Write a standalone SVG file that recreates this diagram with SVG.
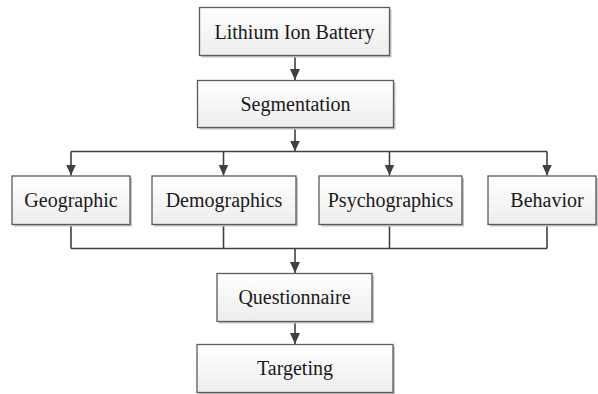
<svg xmlns="http://www.w3.org/2000/svg" width="598" height="394" viewBox="0 0 598 394">
  <defs>
    <linearGradient id="boxfill" x1="0" y1="0" x2="0" y2="1">
      <stop offset="0" stop-color="#ffffff"/>
      <stop offset="1" stop-color="#ededed"/>
    </linearGradient>
    <marker id="arrow" markerUnits="userSpaceOnUse" markerWidth="12" markerHeight="12" viewBox="0 0 12 12" refX="11" refY="6" orient="auto">
      <path d="M0,1 L11,6 L0,11 Z" fill="#404040"/>
    </marker>
  </defs>
  <style>
    .shadow { fill: #c4c4c4; }
    .box { fill: url(#boxfill); stroke: #5a5a5a; stroke-width: 1.3; }
    .label { font-family: "Liberation Serif", "Times New Roman", serif; font-size: 20px; fill: #1a1a1a; text-anchor: middle; }
    .conn { stroke: #404040; stroke-width: 1.6; fill: none; }
    .arr { marker-end: url(#arrow); }
  </style>
  <rect width="598" height="394" fill="#ffffff"/>

  <g id="connectors">
    <line class="conn arr" x1="295" y1="55.5" x2="295" y2="80"/>
    <line class="conn arr" x1="295" y1="127.5" x2="295" y2="151.5"/>
    <line class="conn" x1="71" y1="151.5" x2="547" y2="151.5"/>
    <line class="conn arr" x1="71" y1="151.5" x2="71" y2="175.5"/>
    <line class="conn arr" x1="223.5" y1="151.5" x2="223.5" y2="175.5"/>
    <line class="conn arr" x1="389.5" y1="151.5" x2="389.5" y2="175.5"/>
    <line class="conn arr" x1="547" y1="151.5" x2="547" y2="175.5"/>
    <line class="conn" x1="71" y1="224.5" x2="71" y2="248.5"/>
    <line class="conn" x1="223.5" y1="224.5" x2="223.5" y2="248.5"/>
    <line class="conn" x1="389.5" y1="224.5" x2="389.5" y2="248.5"/>
    <line class="conn" x1="547" y1="224.5" x2="547" y2="248.5"/>
    <line class="conn" x1="71" y1="248.5" x2="547" y2="248.5"/>
    <line class="conn arr" x1="295" y1="248.5" x2="295" y2="273"/>
    <line class="conn arr" x1="295" y1="321.5" x2="295" y2="344"/>
  </g>

  <g id="lithium">
    <rect class="shadow" x="201.5" y="9.5" width="190" height="48"/>
    <rect class="box" x="199.5" y="7.5" width="190" height="48"/>
    <text class="label" x="294.5" y="38.5">Lithium Ion Battery</text>
  </g>
  <g id="segmentation">
    <rect class="shadow" x="199.5" y="82.5" width="196" height="47"/>
    <rect class="box" x="197.5" y="80.5" width="196" height="47"/>
    <text class="label" x="295.5" y="110.5">Segmentation</text>
  </g>
  <g id="geographic">
    <rect class="shadow" x="14" y="178" width="118" height="48.5"/>
    <rect class="box" x="12" y="176" width="118" height="48.5"/>
    <text class="label" x="71" y="206.5">Geographic</text>
  </g>
  <g id="demographics">
    <rect class="shadow" x="154" y="178" width="144" height="48.5"/>
    <rect class="box" x="152" y="176" width="144" height="48.5"/>
    <text class="label" x="224" y="206.5">Demographics</text>
  </g>
  <g id="psychographics">
    <rect class="shadow" x="321" y="178" width="143" height="48.5"/>
    <rect class="box" x="319" y="176" width="143" height="48.5"/>
    <text class="label" x="390.5" y="206.5">Psychographics</text>
  </g>
  <g id="behavior">
    <rect class="shadow" x="490" y="178" width="108" height="48.5"/>
    <rect class="box" x="488" y="176" width="108" height="48.5"/>
    <text class="label" x="547" y="206.5">Behavior</text>
  </g>
  <g id="questionnaire">
    <rect class="shadow" x="219" y="275.5" width="155" height="48"/>
    <rect class="box" x="217" y="273.5" width="155" height="48"/>
    <text class="label" x="294.5" y="303.5">Questionnaire</text>
  </g>
  <g id="targeting">
    <rect class="shadow" x="199" y="346.5" width="196" height="48"/>
    <rect class="box" x="197" y="344.5" width="196" height="48"/>
    <text class="label" x="295" y="375">Targeting</text>
  </g>
</svg>
